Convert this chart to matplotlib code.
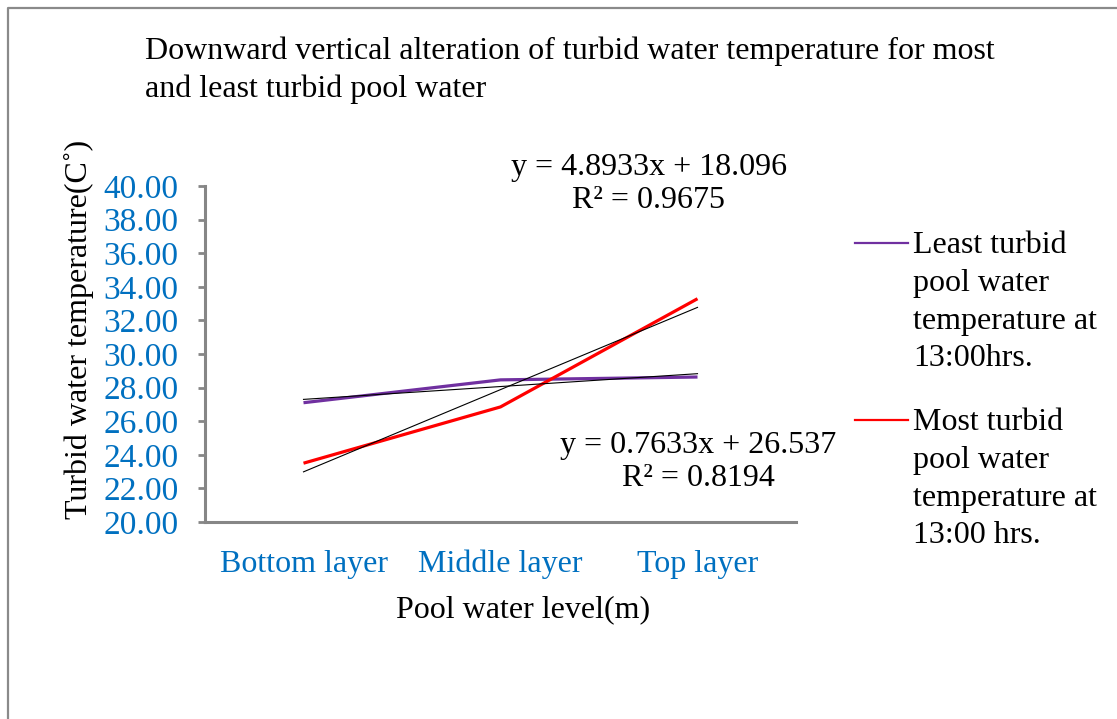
import numpy as np
import matplotlib.pyplot as plt
from matplotlib.lines import Line2D

# data
layers = ["Bottom layer", "Middle layer", "Top layer"]
least_turbid = [27.10, 28.46, 28.63]
most_turbid = [23.50, 26.85, 33.29]
yticks = np.arange(20, 40.01, 2)

W, H = 1117, 719
def fx(x): return x / W
def fy(y): return 1 - y / H

plt.rcParams['font.family'] = ['Liberation Serif', 'DejaVu Serif']
purple = "#7030A0"
red = "#FF0000"
blue = "#0070C0"
grey = "#868686"

fig = plt.figure(figsize=(W / 100, H / 100), dpi=100)
ax = fig.add_axes([fx(205), fy(522), fx(796) - fx(205), fy(186) - fy(522)])

x = np.arange(1, len(layers) + 1)
ax.plot(x, least_turbid, color=purple, lw=2.3, solid_capstyle='butt')
ax.plot(x, most_turbid, color=red, lw=2.3, solid_capstyle='butt')

# linear trendlines
for ys in (least_turbid, most_turbid):
    k, b = np.polyfit(x, ys, 1)
    ax.plot(x, k * x + b, color="black", lw=0.8)

ax.set_xlim(0.5, 3.5)
ax.set_ylim(20, 40)
ax.set_xticks(x)
ax.set_xticklabels(layers)
ax.set_yticks(yticks)
ax.set_yticklabels([f"{v:.2f}" for v in yticks])
ax.tick_params(axis='x', length=0, pad=20, labelsize=23, labelcolor=blue)
ax.tick_params(axis='y', length=5, width=2, color=grey, pad=14,
               labelsize=24, labelcolor=blue)
for s in ("top", "right"):
    ax.spines[s].set_visible(False)
for s in ("left", "bottom"):
    ax.spines[s].set_color(grey)
    ax.spines[s].set_linewidth(2.2)

fig.text(fx(145), fy(36), "Downward vertical alteration of turbid water temperature for most\n"
         "and least turbid pool water", ha='left', va='top', fontsize=23, linespacing=1.38)
fig.text(fx(79), fy(329), "Turbid water temperature(C˚)", rotation=90,
         ha='center', va='center', fontsize=23)
fig.text(fx(523), fy(610), "Pool water level(m)", ha='center', va='center', fontsize=23)

fig.text(fx(649), fy(184), "y = 4.8933x + 18.096\nR² = 0.9675", ha='center', va='center',
         fontsize=23, linespacing=1.17)
fig.text(fx(698), fy(462), "y = 0.7633x + 26.537\nR² = 0.8194", ha='center', va='center',
         fontsize=23, linespacing=1.17)

# legend drawn by hand so the line sits on the first text row
for ytop, col, lab in [(243, purple, "Least turbid\npool water\ntemperature at\n13:00hrs."),
                       (420, red, "Most turbid\npool water\ntemperature at\n13:00 hrs.")]:
    fig.add_artist(Line2D([fx(855), fx(908)], [fy(ytop), fy(ytop)], color=col, lw=1.6))
    fig.text(fx(913), fy(ytop - 12), lab, ha='left', va='top', fontsize=23, linespacing=1.4)

# outer frame
fig.add_artist(Line2D([fx(8), fx(8), fx(W)], [0, fy(8), fy(8)], color="#8a8a8a", lw=1.6))

fig.savefig("out.png", dpi=100)
